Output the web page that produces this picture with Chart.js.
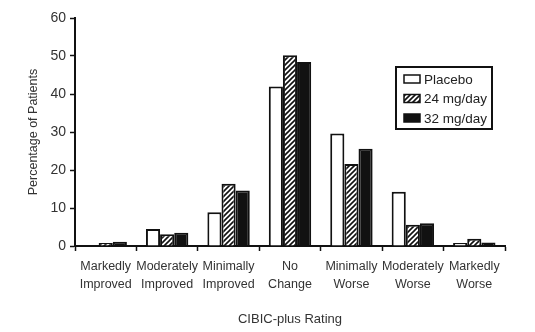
<!DOCTYPE html>
<html>
<head>
<meta charset="utf-8">
<title>CIBIC-plus Rating</title>
<script src="https://cdn.jsdelivr.net/npm/chart.js@4.4.0/dist/chart.umd.min.js"></script>
<style>
  html, body { margin: 0; padding: 0; background: #fff; }
  #wrap { width: 535px; height: 332px; position: relative; }
</style>
</head>
<body>
<div id="wrap"><canvas id="chart"></canvas></div>
<script>
// data
var categories = [
  ['Markedly', 'Improved'], ['Moderately', 'Improved'], ['Minimally', 'Improved'],
  ['No', 'Change'], ['Minimally', 'Worse'], ['Moderately', 'Worse'], ['Markedly', 'Worse']
];
var seriesNames = ['Placebo', '24 mg/day', '32 mg/day'];
var placebo = [0, 4.5, 8.9, 42.0, 29.6, 14.3, 0.8];
var mg24    = [0.8, 3.1, 16.4, 50.2, 21.6, 5.6, 1.9];
var mg32    = [1.1, 3.5, 14.6, 48.4, 25.6, 6.0, 0.9];
var yTicks  = [0, 10, 20, 30, 40, 50, 60];

var FONT = "'Liberation Sans', Arial, sans-serif";
var TXT = '#333';

// diagonal hatch for the 24 mg bars
function hatch() {
  var c = document.createElement('canvas');
  c.width = 5; c.height = 5;
  var g = c.getContext('2d');
  g.fillStyle = '#fff';
  g.fillRect(0, 0, 5, 5);
  g.strokeStyle = '#111';
  g.lineWidth = 1.6;
  g.beginPath();
  g.moveTo(-1, 6); g.lineTo(6, -1);
  g.moveTo(-1, 1); g.lineTo(1, -1);
  g.moveTo(4, 6); g.lineTo(6, 4);
  g.stroke();
  return document.getElementById('chart').getContext('2d').createPattern(c, 'repeat');
}

var fills = ['#ffffff', hatch(), '#111111'];

// legend box drawn inside the plot, like the original
var boxLegend = {
  id: 'boxLegend',
  afterDraw: function (chart) {
    var ctx = chart.ctx;
    var x = 396, y = 67, w = 96, h = 62;
    ctx.save();
    ctx.fillStyle = '#fff';
    ctx.fillRect(x, y, w, h);
    ctx.strokeStyle = '#111';
    ctx.lineWidth = 2;
    ctx.strokeRect(x, y, w, h);
    ctx.font = '13.5px ' + FONT;
    ctx.textBaseline = 'middle';
    chart.data.datasets.forEach(function (ds, i) {
      var cy = 79 + i * 19.5;
      ctx.fillStyle = ds.backgroundColor;
      ctx.fillRect(404, cy - 4, 16, 8);
      ctx.lineWidth = 1.5;
      ctx.strokeStyle = '#111';
      ctx.strokeRect(404, cy - 4, 16, 8);
      ctx.fillStyle = '#222';
      ctx.fillText(ds.label, 424, cy + 1);
    });
    ctx.restore();
  }
};

new Chart(document.getElementById('chart'), {
  type: 'bar',
  data: {
    labels: categories,
    datasets: [placebo, mg24, mg32].map(function (vals, i) {
      return {
        label: seriesNames[i],
        data: vals,
        backgroundColor: fills[i],
        borderColor: '#111',
        borderWidth: 2,
        borderSkipped: 'bottom',
        categoryPercentage: 0.69,
        barPercentage: 1.0
      };
    })
  },
  options: {
    responsive: true,
    maintainAspectRatio: false,
    animation: false,
    layout: { padding: { left: 0, right: 30, top: 18, bottom: 0 } },
    plugins: { legend: { display: false }, tooltip: { enabled: false } },
    scales: {
      x: {
        grid: { display: true, drawOnChartArea: false, offset: true, tickLength: 5, tickColor: '#111', tickWidth: 1.5 },
        border: { color: '#111', width: 2 },
        ticks: { color: TXT, font: { family: FONT, size: 12.5, lineHeight: 1.44 }, padding: 7, maxRotation: 0, autoSkip: false },
        title: { display: true, text: 'CIBIC-plus Rating', color: TXT, font: { family: FONT, size: 13 }, padding: { top: 0, bottom: 5 } },
        afterFit: function (s) { s.height = 86; }
      },
      y: {
        min: 0, max: 60,
        afterBuildTicks: function (s) { s.ticks = yTicks.map(function (v) { return { value: v }; }); },
        grid: { display: true, drawOnChartArea: false, tickLength: 5, tickColor: '#111', tickWidth: 1.5 },
        border: { color: '#111', width: 2 },
        ticks: { color: TXT, font: { family: FONT, size: 14 }, padding: 4 },
        title: { display: true, text: 'Percentage of Patients', color: TXT, font: { family: FONT, size: 12.5 }, padding: { top: 26, bottom: 0 } },
        afterFit: function (s) { s.width = 75; }
      }
    }
  },
  plugins: [boxLegend]
});
</script>
</body>
</html>
